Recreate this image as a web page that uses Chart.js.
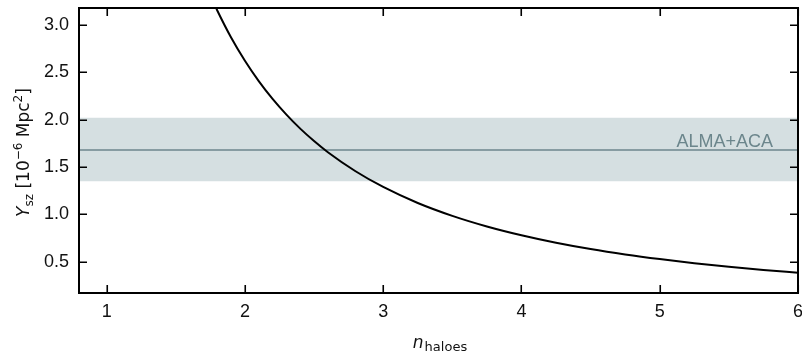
<!DOCTYPE html>
<html>
<head>
<meta charset="utf-8">
<script src="https://cdn.jsdelivr.net/npm/chart.js@4.4.1/dist/chart.umd.min.js"></script>
<style>
  html, body { margin: 0; padding: 0; background: #fff; }
</style>
</head>
<body>
<canvas id="yszChart" width="802" height="356"></canvas>
<script>
// values
const nHaloes = [1.75, 1.8, 1.9, 2.0, 2.1, 2.2, 2.3, 2.4, 2.5, 2.6, 2.8, 3.0,
                 3.25, 3.5, 3.75, 4.0, 4.25, 4.5, 4.75, 5.0, 5.25, 5.5, 5.75, 6.0];
const yszModel = [3.313, 3.154, 2.869, 2.623, 2.408, 2.220, 2.054, 1.906, 1.775, 1.657, 1.456, 1.290,
                  1.121, 0.985, 0.873, 0.780, 0.701, 0.634, 0.577, 0.528, 0.485, 0.447, 0.413, 0.384];

const almaRange = [0.8, 6.0];
const almaLevel = 1.68;
const almaLow = 1.35;
const almaHigh = 2.02;
const almaLabel = 'ALMA+ACA';

const xTicks = [1, 2, 3, 4, 5, 6];
const yTicks = [0.5, 1.0, 1.5, 2.0, 2.5, 3.0];

const slate = '#6c868c';
const tickFont = { family: 'Liberation Sans', size: 18 };

const flat = (v) => almaRange.map(x => ({ x: x, y: v }));

// frame, inward ticks, axis titles and the band label
const decorations = {
  id: 'decorations',
  afterDatasetsDraw(chart) {
    const { ctx, chartArea: a, scales: { x, y } } = chart;
    ctx.save();

    // ALMA+ACA label
    ctx.fillStyle = slate;
    ctx.font = '18px "Liberation Sans"';
    ctx.textAlign = 'right';
    ctx.textBaseline = 'alphabetic';
    ctx.fillText(almaLabel, x.getPixelForValue(5.82), y.getPixelForValue(almaLevel) - 3.5);

    // ticks pointing inwards on all four sides
    ctx.strokeStyle = '#000';
    ctx.lineWidth = 1.6;
    ctx.beginPath();
    xTicks.forEach(v => {
      const px = Math.round(x.getPixelForValue(v)) + 0.25;
      ctx.moveTo(px, a.bottom); ctx.lineTo(px, a.bottom - 8);
      ctx.moveTo(px, a.top); ctx.lineTo(px, a.top + 8);
    });
    yTicks.forEach(v => {
      const py = Math.round(y.getPixelForValue(v)) + 0.25;
      ctx.moveTo(a.left, py); ctx.lineTo(a.left + 8, py);
      ctx.moveTo(a.right, py); ctx.lineTo(a.right - 8, py);
    });
    ctx.stroke();

    // frame
    ctx.lineWidth = 2;
    ctx.strokeRect(a.left, a.top, a.right - a.left, a.bottom - a.top);

    // x title: n_haloes
    ctx.fillStyle = '#111';
    ctx.textAlign = 'left';
    const nFont = 'italic 17px "DejaVu Sans"';
    const subFont = '13px "DejaVu Sans"';
    ctx.font = nFont;
    const wn = ctx.measureText('n').width;
    ctx.font = subFont;
    const ws = ctx.measureText('haloes').width;
    let sx = (a.left + a.right) / 2 - (wn + ws) / 2 + 1;
    ctx.font = nFont;
    ctx.fillText('n', sx, 348);
    ctx.font = subFont;
    ctx.fillText('haloes', sx + wn + 1, 351);

    // y title: Y_sz [10^-6 Mpc^2]
    const parts = [
      { t: 'Y', f: 'italic 17px "DejaVu Sans"', dy: 0 },
      { t: 'sz', f: '12px "DejaVu Sans"', dy: 3.5 },
      { t: ' [10', f: '17px "DejaVu Sans"', dy: 0 },
      { t: '\u22126', f: '12px "DejaVu Sans"', dy: -7.5 },
      { t: ' Mpc', f: '17px "DejaVu Sans"', dy: 0 },
      { t: '2', f: '12px "DejaVu Sans"', dy: -7.5 },
      { t: ']', f: '17px "DejaVu Sans"', dy: 0 }
    ];
    let total = 0;
    parts.forEach(p => { ctx.font = p.f; p.w = ctx.measureText(p.t).width; total += p.w; });
    ctx.translate(29, (a.top + a.bottom) / 2 + 2);
    ctx.rotate(-Math.PI / 2);
    let cx = -total / 2;
    parts.forEach(p => {
      ctx.font = p.f;
      ctx.fillText(p.t, cx, p.dy);
      cx += p.w;
    });

    ctx.restore();
  }
};

const ctx = document.getElementById('yszChart').getContext('2d');

const yszChart = new Chart(ctx, {
  type: 'line',
  data: {
    datasets: [
      {
        label: 'Y_sz',
        data: nHaloes.map((n, i) => ({ x: n, y: yszModel[i] })),
        borderColor: '#000',
        borderWidth: 2,
        pointRadius: 0,
        cubicInterpolationMode: 'monotone',
        fill: false
      },
      {
        label: 'ALMA+ACA',
        data: flat(almaLevel),
        borderColor: slate,
        borderWidth: 1.6,
        pointRadius: 0,
        fill: false
      },
      {
        label: 'band high',
        data: flat(almaHigh),
        borderWidth: 0,
        borderColor: 'rgba(0,0,0,0)',
        pointRadius: 0,
        backgroundColor: '#d5dfe1',
        fill: '+1'
      },
      {
        label: 'band low',
        data: flat(almaLow),
        borderWidth: 0,
        borderColor: 'rgba(0,0,0,0)',
        pointRadius: 0,
        fill: false
      }
    ]
  },
  options: {
    responsive: false,
    animation: false,
    events: [],
    layout: { padding: { top: 8, right: 4, left: 0, bottom: 0 } },
    plugins: {
      legend: { display: false },
      tooltip: { enabled: false }
    },
    scales: {
      x: {
        type: 'linear',
        min: 0.8,
        max: 6,
        afterBuildTicks: s => { s.ticks = xTicks.map(v => ({ value: v })); },
        afterFit: s => { s.height = 63; s.paddingLeft = 0; s.paddingRight = 0; },
        ticks: {
          autoSkip: false,
          maxRotation: 0,
          padding: 8,
          color: '#111',
          font: tickFont,
          callback: v => String(v)
        },
        grid: { display: false, drawTicks: false },
        border: { display: false }
      },
      y: {
        type: 'linear',
        min: 0.17,
        max: 3.18,
        afterBuildTicks: s => { s.ticks = yTicks.map(v => ({ value: v })); },
        afterFit: s => { s.width = 79; s.paddingTop = 0; s.paddingBottom = 0; },
        ticks: {
          autoSkip: false,
          padding: 10,
          color: '#111',
          font: tickFont,
          callback: v => v.toFixed(1)
        },
        grid: { display: false, drawTicks: false },
        border: { display: false }
      }
    }
  },
  plugins: [decorations]
});
</script>
</body>
</html>
